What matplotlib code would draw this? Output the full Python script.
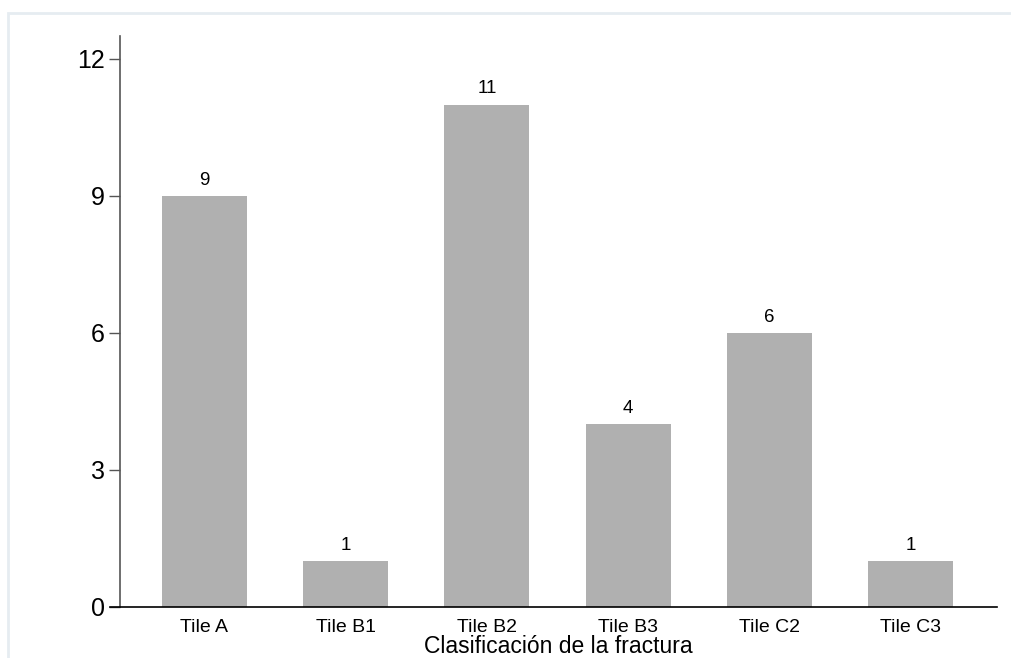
import matplotlib
matplotlib.use("Agg")
import matplotlib.pyplot as plt
from matplotlib.patches import Rectangle

categories = ["Tile A", "Tile B1", "Tile B2", "Tile B3", "Tile C2", "Tile C3"]
counts = [9, 1, 11, 4, 6, 1]
yticks = [0, 3, 6, 9, 12]
xlabel = "Clasificación de la fractura"

plt.rcParams['font.family'] = ['Liberation Sans', 'DejaVu Sans']

W, H = 1011, 658
fig = plt.figure(figsize=(W / 100, H / 100), dpi=100)
fig.patch.set_facecolor("white")

# light outer frame
fig.add_artist(Rectangle((8 / W, -0.1), 1.2, (H - 13) / H + 0.1, transform=fig.transFigure,
                         fill=False, edgecolor="#e6ecf1", linewidth=2))

ax = fig.add_axes([120 / W, (H - 607) / H, (997 - 120) / W, (607 - 36) / H])
x = list(range(len(categories)))
bars = ax.bar(x, counts, width=0.602, color="#b0b0b0", zorder=2)
for xi, v in zip(x, counts):
    ax.text(xi, v + 0.16, str(v), ha="center", va="bottom", fontsize=13.5, color="black")

ax.set_xlim(-0.598, 5.613)
ax.set_ylim(0, 12.5)
ax.set_yticks(yticks)
ax.set_yticklabels([str(t) for t in yticks], fontsize=18)
ax.set_xticks(x)
ax.set_xticklabels(categories, fontsize=14)
ax.tick_params(axis="x", length=0, pad=9)
ax.tick_params(axis="y", length=8, width=1, color="#555555", pad=3)

for s in ["top", "right"]:
    ax.spines[s].set_visible(False)
ax.spines["left"].set_color("#555555")
ax.spines["left"].set_linewidth(1.2)
ax.spines["bottom"].set_color("black")
ax.spines["bottom"].set_linewidth(1.2)
ax.spines["bottom"].set_bounds(-0.598 - 10 / 141.2, 5.613)
ax.spines["bottom"].set_clip_on(False)

fig.text(558.5 / W, (H - 653) / H, xlabel, fontsize=16.5, ha="center", va="baseline")

fig.savefig("out.png", dpi=100)
